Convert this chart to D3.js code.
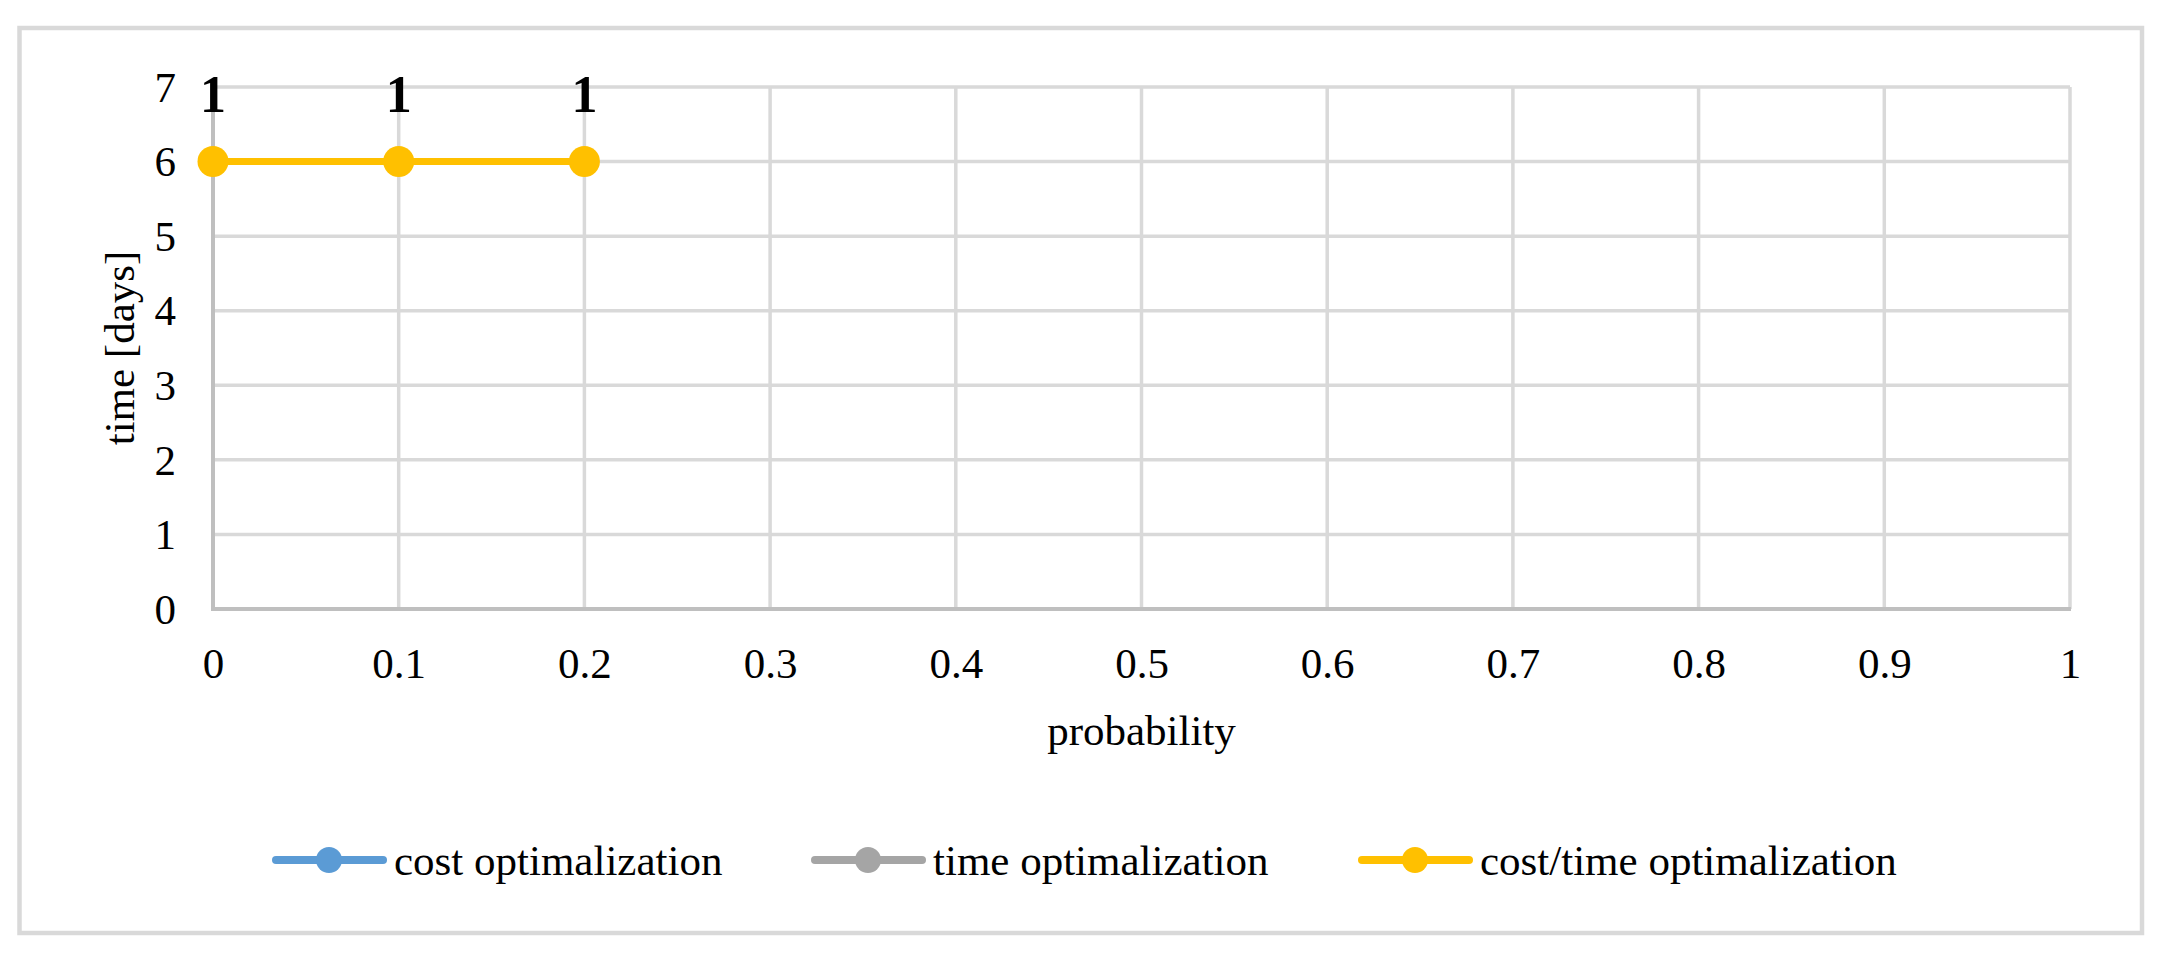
<!DOCTYPE html>
<html>
<head>
<meta charset="utf-8">
<script src="https://cdn.jsdelivr.net/npm/d3@7"></script>
<style>
  html, body { margin: 0; padding: 0; background: #fff; }
  svg { display: block; font-family: "Liberation Serif", "Times New Roman", serif; }
</style>
</head>
<body>
<svg id="chart" width="2163" height="962"></svg>
<script>
// ---- data ----
const seriesNames = ["cost optimalization", "time optimalization", "cost/time optimalization"];
const seriesColors = ["#5B9BD5", "#A5A5A5", "#FFC000"];
const costX = [];
const costY = [];
const timeX = [];
const timeY = [];
const costTimeX = [0, 0.1, 0.2];
const costTimeY = [6, 6, 6];
const costTimeLabels = ["1", "1", "1"];
const xTicks = [0, 0.1, 0.2, 0.3, 0.4, 0.5, 0.6, 0.7, 0.8, 0.9, 1];
const yTicks = [0, 1, 2, 3, 4, 5, 6, 7];
const xTitle = "probability";
const yTitle = "time [days]";

const svg = d3.select("#chart");
const W = 2163, H = 962;
const plot = { left: 213, right: 2070, top: 87, bottom: 609 };

const x = d3.scaleLinear().domain([0, 1]).range([plot.left, plot.right]);
const y = d3.scaleLinear().domain([0, 7]).range([plot.bottom, plot.top]);

// outer border
svg.append("rect")
  .attr("x", 19.5).attr("y", 28)
  .attr("width", 2142 - 19.5).attr("height", 933 - 28)
  .attr("fill", "#fff").attr("stroke", "#d9d9d9").attr("stroke-width", 4.5);

// gridlines
const grid = svg.append("g");
grid.selectAll("line.h").data(yTicks.filter(d => d !== 0)).enter().append("line")
  .attr("x1", plot.left).attr("x2", plot.right)
  .attr("y1", d => y(d)).attr("y2", d => y(d))
  .attr("stroke", "#d9d9d9").attr("stroke-width", 3.5);
grid.selectAll("line.v").data(xTicks.filter(d => d !== 0)).enter().append("line")
  .attr("y1", plot.top).attr("y2", plot.bottom)
  .attr("x1", d => x(d)).attr("x2", d => x(d))
  .attr("stroke", "#d9d9d9").attr("stroke-width", 3.5);

// axes lines
svg.append("line").attr("x1", x(0)).attr("x2", x(0)).attr("y1", plot.top).attr("y2", plot.bottom + 2)
  .attr("stroke", "#bfbfbf").attr("stroke-width", 4);
svg.append("line").attr("x1", x(0) - 2).attr("x2", plot.right + 1).attr("y1", y(0)).attr("y2", y(0))
  .attr("stroke", "#bfbfbf").attr("stroke-width", 4);

// axes tick labels using d3 axes
const xAxis = d3.axisBottom(x).tickValues(xTicks).tickFormat(d3.format("~g")).tickSize(0).tickPadding(0);
const gx = svg.append("g").attr("transform", `translate(0, ${plot.bottom})`).call(xAxis);
gx.select(".domain").remove();
gx.selectAll("text").attr("font-size", 43).attr("fill", "#000")
  .attr("font-family", "Liberation Serif").attr("dy", null).attr("y", 69);

const yAxis = d3.axisLeft(y).tickValues(yTicks).tickFormat(d3.format("d")).tickSize(0).tickPadding(0);
const gy = svg.append("g").attr("transform", `translate(176, 0)`).call(yAxis);
gy.select(".domain").remove();
gy.selectAll("text").attr("font-size", 43).attr("fill", "#000")
  .attr("font-family", "Liberation Serif").attr("x", 0).attr("dy", "0.33em");

// axis titles
svg.append("text").attr("x", (plot.left + plot.right) / 2).attr("y", 745)
  .attr("text-anchor", "middle").attr("font-size", 43).text(xTitle);
svg.append("text")
  .attr("transform", `translate(134, ${(plot.top + plot.bottom) / 2}) rotate(-90)`)
  .attr("text-anchor", "middle").attr("font-size", 43).text(yTitle);

// series
const series = [
  { name: seriesNames[0], color: seriesColors[0], pts: costX.map((v, i) => ({ x: v, y: costY[i] })) },
  { name: seriesNames[1], color: seriesColors[1], pts: timeX.map((v, i) => ({ x: v, y: timeY[i] })) },
  { name: seriesNames[2], color: seriesColors[2], pts: costTimeX.map((v, i) => ({ x: v, y: costTimeY[i], label: costTimeLabels[i] })) }
];

const line = d3.line().x(d => x(d.x)).y(d => y(d.y));
series.forEach(s => {
  if (!s.pts.length) return;
  svg.append("path").datum(s.pts).attr("d", line)
    .attr("fill", "none").attr("stroke", s.color).attr("stroke-width", 7);
  svg.selectAll(null).data(s.pts).enter().append("circle")
    .attr("cx", d => x(d.x)).attr("cy", d => y(d.y)).attr("r", 15.5)
    .attr("fill", s.color);
  svg.selectAll(null).data(s.pts.filter(d => d.label)).enter().append("text")
    .attr("x", d => x(d.x)).attr("y", d => y(d.y) - 50)
    .attr("text-anchor", "middle").attr("font-size", 52).attr("font-weight", "bold")
    .text(d => d.label);
});

// legend
const legendX = [273, 812, 1359];
const legend = svg.append("g");
series.forEach((s, i) => {
  const lx = legendX[i], ly = 860;
  legend.append("line").attr("x1", lx + 3).attr("x2", lx + 110).attr("y1", ly).attr("y2", ly)
    .attr("stroke", s.color).attr("stroke-width", 8).attr("stroke-linecap", "round");
  legend.append("circle").attr("cx", lx + 56).attr("cy", ly).attr("r", 13).attr("fill", s.color);
  legend.append("text").attr("x", lx + 121).attr("y", ly + 15)
    .attr("font-size", 43).attr("fill", "#000").text(s.name);
});
</script>
</body>
</html>
